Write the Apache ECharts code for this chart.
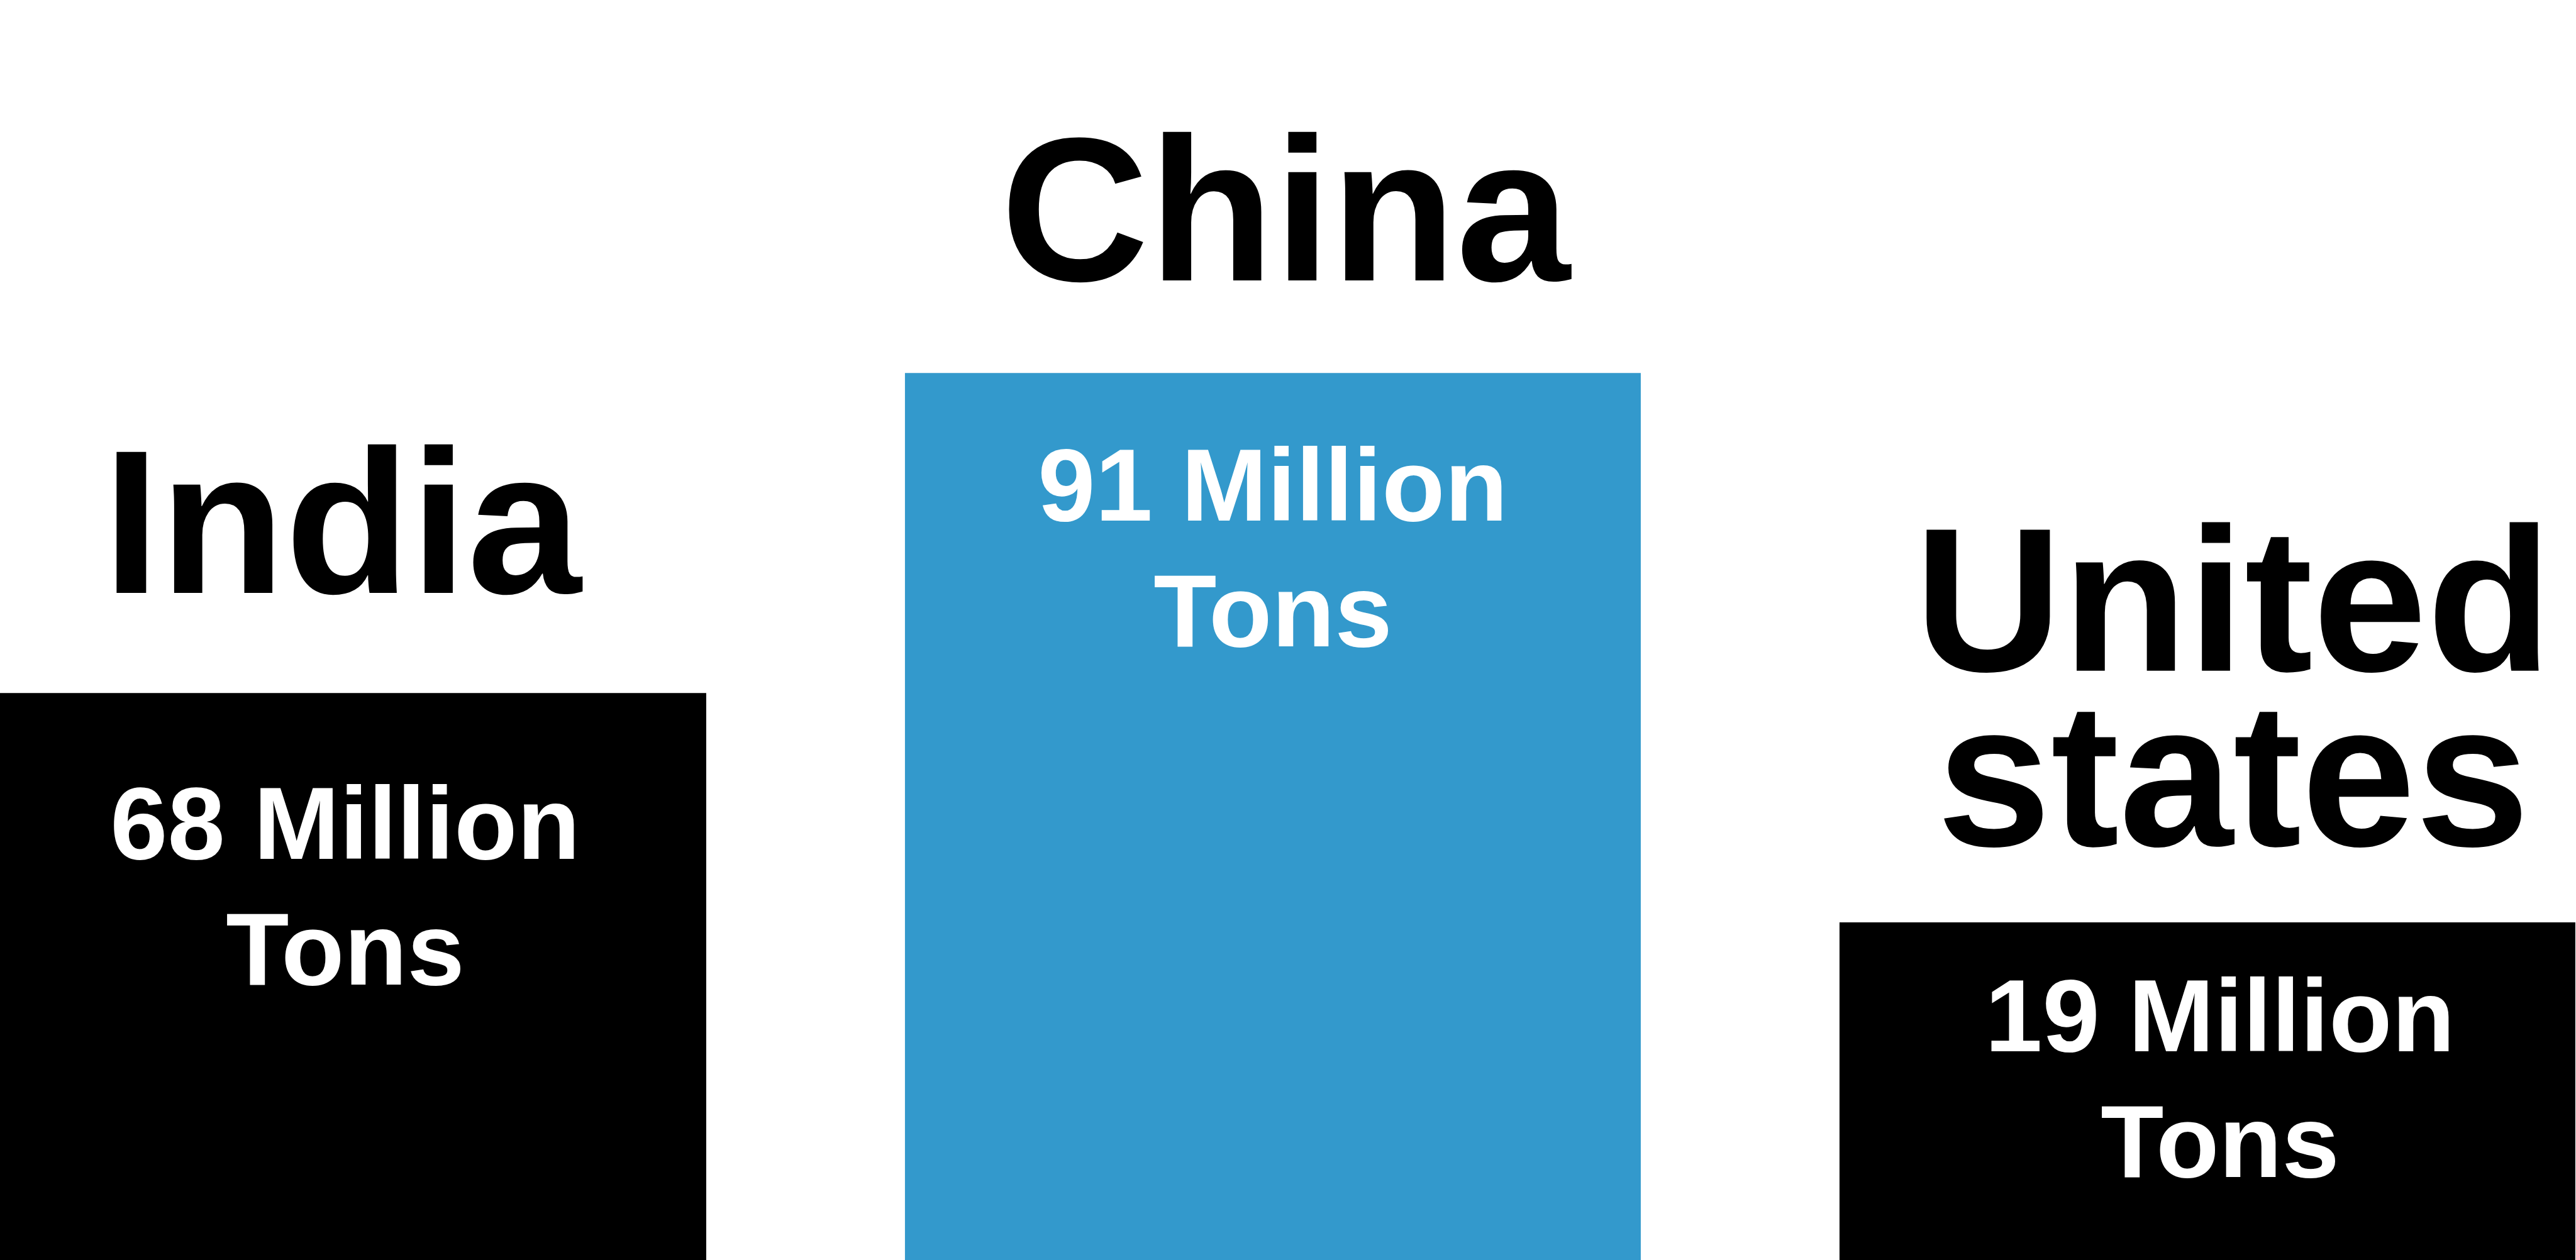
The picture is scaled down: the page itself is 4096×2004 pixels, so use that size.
<!DOCTYPE html>
<html>
<head>
<meta charset="utf-8">
<script src="https://cdn.jsdelivr.net/npm/echarts@6/dist/echarts.min.js"></script>
<style>
  html, body { margin: 0; padding: 0; background: #ffffff; }
  #chart { width: 4096px; height: 2004px; }
</style>
</head>
<body>
<div id="chart"></div>
<script>
// ---- Data ----
const categories = ['India', 'China', 'United states'];
const tonnage = [68, 91, 19];               // million tons (label values)
const barHeights = [45.0, 70.4, 26.8];      // drawn bar height, % of plot height (as pictured)
const unitLine1 = 'Million';
const unitLine2 = 'Tons';

// ---- Styling ----
const FONT = '"Liberation Sans", Arial, Helvetica, sans-serif';
const barColors = ['#000000', '#3399cc', '#000000'];
const valueGap = [119, 90, 60];
const valueDx = [11, 0, 20];
const nameGap = [110, 98, 73];
const nameDx = [6, 20, 41];

const chart = echarts.init(document.getElementById('chart'), null, { renderer: 'canvas' });

// x positions are category indices (0, 1, 2) on a value axis whose window
// crops the outer bars at the page edges, as in the reference
const option = {
  backgroundColor: '#ffffff',
  animation: false,
  grid: { left: 0, right: 0, top: 0, bottom: 0, containLabel: false },
  xAxis: { type: 'value', min: -0.362, max: 2.3944, show: false },
  yAxis: { type: 'value', min: 0, max: 100, show: false },
  series: [
    {
      type: 'bar',
      barWidth: 1170,
      silent: true,
      data: barHeights.map((h, i) => ({
        value: [i, h],
        itemStyle: { color: barColors[i] },
        label: { distance: valueGap[i], offset: [valueDx[i], 0] }
      })),
      label: {
        show: true,
        position: 'insideTop',
        formatter: p => tonnage[p.dataIndex] + ' ' + unitLine1 + '\n' + unitLine2,
        color: '#ffffff',
        fontFamily: FONT,
        fontWeight: 'bold',
        fontSize: 164,
        lineHeight: 200,
        align: 'center'
      }
    },
    {
      type: 'bar',
      barWidth: 1170,
      barGap: '-100%',
      silent: true,
      itemStyle: { color: 'rgba(0,0,0,0)' },
      data: barHeights.map((h, i) => ({
        value: [i, h],
        label: { distance: nameGap[i], offset: [nameDx[i], 0] }
      })),
      label: {
        show: true,
        position: 'top',
        formatter: p => categories[p.dataIndex].replace(' ', '\n'),
        color: '#000000',
        fontFamily: FONT,
        fontWeight: 'bold',
        fontSize: 326,
        lineHeight: 278,
        align: 'center'
      }
    }
  ]
};

chart.setOption(option);
</script>
</body>
</html>
